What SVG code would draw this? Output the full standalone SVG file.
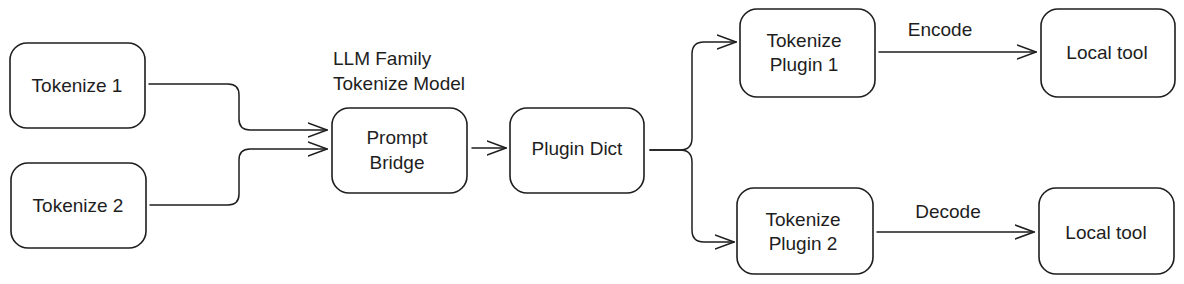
<svg xmlns="http://www.w3.org/2000/svg" width="1184" height="284" viewBox="0 0 1184 284">
<defs>
<style>
.box{fill:#ffffff;stroke:#1e1e1e;stroke-width:1.6}
.ln{fill:none;stroke:#1e1e1e;stroke-width:1.5;stroke-linecap:round;stroke-linejoin:round}
text{font-family:"Liberation Sans","DejaVu Sans",sans-serif;font-size:19px;fill:#1e1e1e;text-anchor:middle}
.lbl{text-anchor:start}
</style>
<marker id="ah" viewBox="0 0 20 20" refX="19" refY="10" markerWidth="20" markerHeight="20" markerUnits="userSpaceOnUse" orient="auto">
<path d="M0,3 L19,10 L0,17" fill="none" stroke="#1e1e1e" stroke-width="1.5" stroke-linecap="round"/>
</marker>
</defs>
<rect width="1184" height="284" fill="#ffffff"/>
<g id="connectors">
<path class="ln" marker-end="url(#ah)" d="M149,84 H228 Q239,84 239,95 V119 Q239,130 250,130 H327"/>
<path class="ln" marker-end="url(#ah)" d="M150,205 H228 Q239,205 239,194 V160 Q239,149 250,149 H327"/>
<path class="ln" marker-end="url(#ah)" d="M472,148 H506"/>
<path class="ln" marker-end="url(#ah)" d="M650,150 H680 Q692,150 692,138 V54 Q692,42 704,42 H736"/>
<path class="ln" marker-end="url(#ah)" d="M650,150 H680 Q692,150 692,162 V230 Q692,242 704,242 H734"/>
<path class="ln" marker-end="url(#ah)" d="M879,52 H1036"/>
<path class="ln" marker-end="url(#ah)" d="M877,232 H1034"/>
<text x="940" y="36">Encode</text>
<text x="948" y="218">Decode</text>
</g>
<g id="tokenize1">
<rect class="box" x="10" y="43" width="135" height="85" rx="17"/>
<text x="77" y="92">Tokenize 1</text>
</g>
<g id="tokenize2">
<rect class="box" x="11" y="163" width="135" height="85" rx="17"/>
<text x="78" y="212">Tokenize 2</text>
</g>
<g id="llm-label">
<text class="lbl" x="333" y="65">LLM Family</text>
<text class="lbl" x="333" y="90">Tokenize Model</text>
</g>
<g id="prompt-bridge">
<rect class="box" x="332" y="108" width="135" height="85" rx="17"/>
<text x="397" y="144">Prompt</text>
<text x="397" y="169">Bridge</text>
</g>
<g id="plugin-dict">
<rect class="box" x="510" y="108" width="134" height="85" rx="17"/>
<text x="577" y="155">Plugin Dict</text>
</g>
<g id="tokenize-plugin1">
<rect class="box" x="740" y="9" width="135" height="88" rx="17"/>
<text x="804" y="47">Tokenize</text>
<text x="804" y="71">Plugin 1</text>
</g>
<g id="tokenize-plugin2">
<rect class="box" x="737" y="188" width="136" height="86" rx="17"/>
<text x="803" y="226">Tokenize</text>
<text x="803" y="250">Plugin 2</text>
</g>
<g id="local-tool1">
<rect class="box" x="1041" y="9" width="134" height="88" rx="17"/>
<text x="1107" y="59">Local tool</text>
</g>
<g id="local-tool2">
<rect class="box" x="1039" y="188" width="135" height="86" rx="17"/>
<text x="1106" y="239">Local tool</text>
</g>
</svg>
